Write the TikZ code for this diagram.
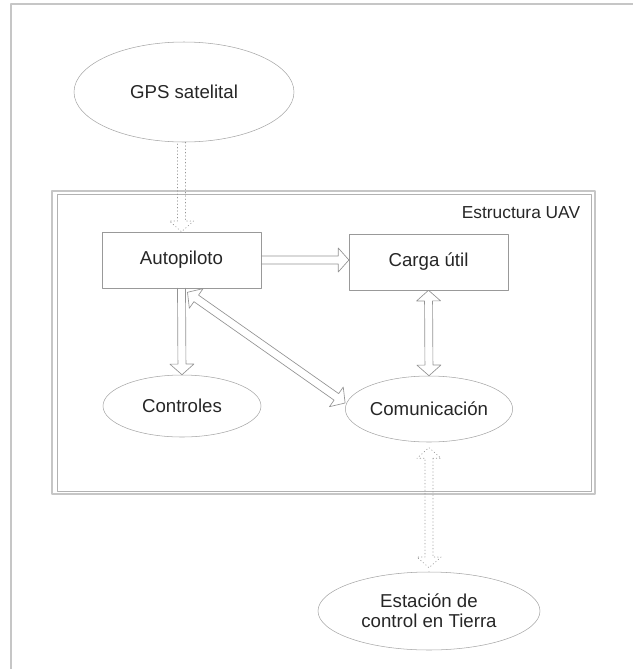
\documentclass[tikz,border=0pt]{standalone}
\usepackage{fontspec}
\setmainfont{Liberation Sans}
\usetikzlibrary{calc, positioning, shapes.geometric}

% hollow connector, head at #3
\newcommand{\oneway}[3][]{%
  \coordinate (hb) at ($(#3)!8pt!(#2)$);
  \draw[hollow,#1] ($(#2)!3pt!90:(#3)$) -- ($(hb)!3pt!-90:(#2)$)
    -- ($(hb)!9pt!-90:(#2)$) -- (#3) -- ($(hb)!9pt!90:(#2)$)
    -- ($(hb)!3pt!90:(#2)$) -- ($(#2)!3pt!-90:(#3)$);}
% hollow connector, heads at both ends
\newcommand{\twoway}[3][]{%
  \coordinate (ha) at ($(#2)!8pt!(#3)$);
  \coordinate (hb) at ($(#3)!8pt!(#2)$);
  \draw[hollow,#1] ($(ha)!3pt!90:(#3)$) -- ($(hb)!3pt!-90:(#2)$)
    -- ($(hb)!9pt!-90:(#2)$) -- (#3) -- ($(hb)!9pt!90:(#2)$)
    -- ($(hb)!3pt!90:(#2)$) -- ($(ha)!3pt!-90:(#3)$)
    -- ($(ha)!9pt!-90:(#3)$) -- (#2) -- ($(ha)!9pt!90:(#3)$) -- cycle;}

\begin{document}
\begin{tikzpicture}[x=0.75pt,y=-0.75pt,line cap=round,line join=round,
  every node/.style={text=black!85,font=\fontsize{14}{15}\selectfont},
  box/.style={draw=gray!80,rectangle,minimum width=119pt,minimum height=42pt,inner sep=0pt},
  oval/.style={draw=gray!70,ellipse,inner sep=0pt},
  hollow/.style={draw=gray!85,line width=0.5pt}]
\path[use as bounding box] (0,0) rectangle (633,669);

% frame of the page
\draw[gray!45,line width=1.5pt] (11,669) -- (11,4) -- (633,4);

% UAV structure
\draw[gray!45,line width=1.5pt] (52,191) rectangle (595,494);
\draw[gray!60,line width=0.6pt] (57,194) rectangle (591,491);
\node[font=\fontsize{13}{15}\selectfont] (uav) at (521,213) {Estructura UAV};

\node[oval,minimum width=165pt,minimum height=75pt] (gps) at (184,92) {GPS satelital};
\node[box] (auto) at (181.5,260) {Autopiloto};
\node[box] (carga) at (428.5,262) {Carga útil};
\node[oval,minimum width=118.5pt,minimum height=46.5pt] (ctrl) at (182,406) {Controles};
\node[oval,minimum width=118.5pt,minimum height=49.5pt] (comu) at (429,409) {Comunicación};
\node[oval,minimum width=166.5pt,minimum height=58.5pt,align=center] (tierra) at (429,611)
  {Estación de\\control en Tierra};

\oneway[dotted]{auto.north |- gps.south}{auto.north}
\oneway{auto.east}{auto.east -| carga.west}
\oneway{auto.south}{ctrl.north}
\twoway{[shift={(6,4)}]auto.south}{[shift={(0,-6)}]comu.west}
\twoway{carga.south}{comu.north}
\twoway[dotted]{[yshift=-4pt]comu.south}{[yshift=3pt]tierra.north}
\end{tikzpicture}
\end{document}
